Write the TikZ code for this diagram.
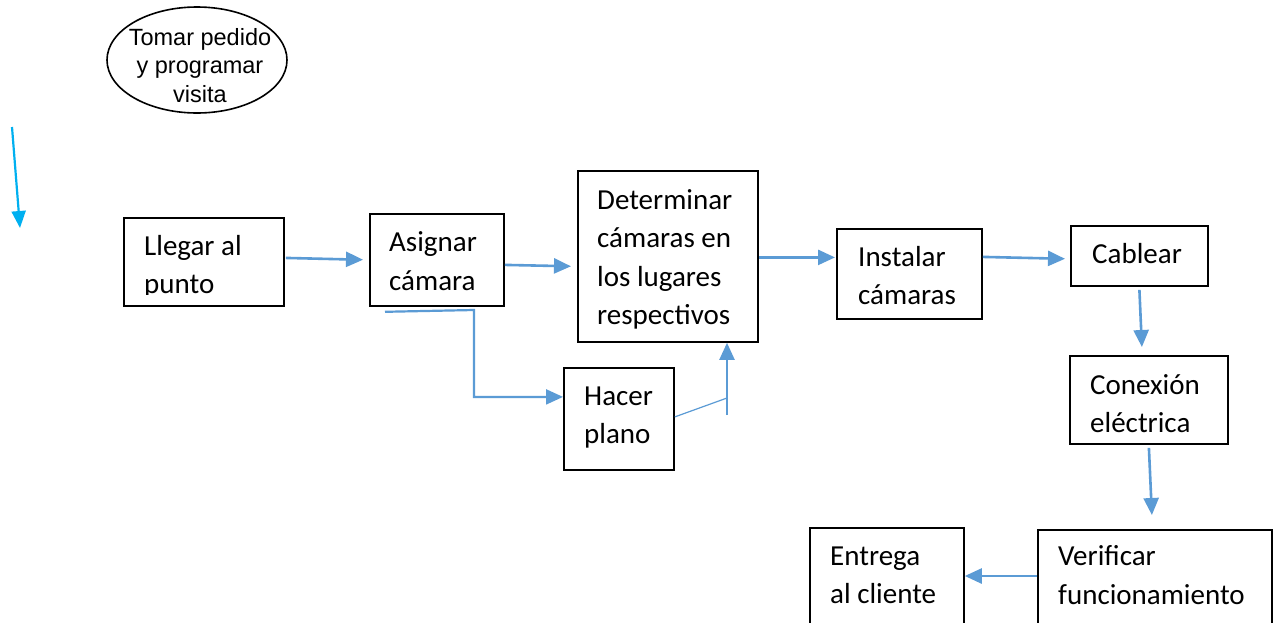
\documentclass[tikz,border=0pt]{standalone}
\usepackage{fontspec}
\setmainfont{Carlito}
\newfontfamily\arialf{Liberation Sans}
\usetikzlibrary{arrows.meta,shapes.geometric,calc}
\definecolor{flowblue}{HTML}{5B9BD5}
\definecolor{cyanarrow}{HTML}{00B0F0}
\tikzset{
  box/.style={draw=black, line width=1.8pt, inner sep=0pt, anchor=north west},
  txt/.style={anchor=base west, inner sep=0pt, align=left, font=\fontsize{29}{38.5}\selectfont},
  flow/.style={draw=flowblue, line width=2.6pt, -{Triangle[length=17pt,width=15pt]}},
  flowline/.style={draw=flowblue, line width=2.2pt},
}
\begin{document}
\begin{tikzpicture}[x=1pt,y=-1pt]
\clip (0,0) rectangle (1274,622);
\fill[white] (0,0) rectangle (1274,622);

% ellipse
\node[draw=black, line width=1.6pt, ellipse, minimum width=180pt, minimum height=106pt, inner sep=0pt] (tomar) at (197,60) {};
\node[anchor=base, inner sep=0pt, align=center, font=\arialf\fontsize{23.5}{28.5}\selectfont] (tomartxt) at (200,102) {Tomar pedido\\y programar\\visita};

% cyan arrow
\coordinate (cyA) at (12,127);
\coordinate (cyB) at (20,228);
\draw[draw=cyanarrow, line width=2.2pt, -{Triangle[length=17pt,width=14pt]}] (cyA) -- (cyB);

% boxes
\node[box, minimum width=160pt, minimum height=88pt] (llegar) at (123,217) {};
\node[box, minimum width=134pt, minimum height=92pt] (asignar) at (369,213) {};
\node[box, minimum width=180pt, minimum height=171pt] (det) at (577,170) {};
\node[box, minimum width=145pt, minimum height=90pt] (instalar) at (836,228) {};
\node[box, minimum width=137pt, minimum height=60pt] (cablear) at (1070,225) {};
\node[box, minimum width=158pt, minimum height=88pt] (conexion) at (1069,355) {};
\node[box, minimum width=110pt, minimum height=102pt] (hacer) at (563,367) {};
\node[box, minimum width=154pt, minimum height=130pt] (entrega) at (809,527) {};
\node[box, minimum width=234pt, minimum height=130pt] (verificar) at (1037,529) {};

% texts (anchor = baseline of last line)
\begin{scope}
\clip (123,217) rectangle (283,294);
\node[txt] (llegartxt) at (144,293.5) {Llegar al\\punto};
\end{scope}
\node[txt] (asignartxt) at (389,290) {Asignar\\cámara};
\node[txt] (dettxt) at (597,324.5) {Determinar\\cámaras en\\los lugares\\respectivos};
\node[txt] (instalartxt) at (858,304.5) {Instalar\\cámaras};
\node[txt] (cableartxt) at (1092,263) {Cablear};
\node[txt] (conexiontxt) at (1090,432.5) {Conexión\\eléctrica};
\node[txt] (hacertxt) at (584,443.5) {Hacer\\plano};
\node[txt] (entregatxt) at (830,603.5) {Entrega\\al cliente};
\node[txt] (verificartxt) at (1058,604) {Verificar\\funcionamiento};

% connectors
\draw[flow, shorten <=1pt, shorten >=6pt] ([yshift=4pt]llegar.east) -- (asignar.west);
\draw[flow, shorten >=6pt] ([yshift=-5pt]asignar.east) -- ([yshift=-10pt]det.west);
\draw[flow, shorten >=1pt] ([yshift=-1pt]det.east) -- ([yshift=-1pt]det.east -| instalar.west);
\draw[flow, shorten >=5pt] ([yshift=17pt]instalar.east) -- ([yshift=-3pt]cablear.west);
\draw[flow] ([yshift=-3pt]cablear.south) -- ([xshift=-7pt,yshift=8pt]conexion.north);
\draw[flow] ([yshift=-3pt]conexion.south) -- ([xshift=-3pt,yshift=14pt]verificar.north);
\draw[flow] ([yshift=-47pt]verificar.north west) -- ([yshift=-49pt]entrega.north east);

\draw[flowline, -{Triangle[length=17pt,width=15pt]}] ([xshift=16pt,yshift=-5pt]asignar.south west) -- (474,310) |- ([yshift=22pt]hacer.west);

\coordinate (hj) at (727,398);
\coordinate (vtail) at (727,415);
\draw[draw=flowblue, line width=1.2pt] ([yshift=2pt]hacer.east) -- (hj);
\draw[flowline, -{Triangle[length=17pt,width=15pt]}] (vtail) -- (vtail |- det.south);
\end{tikzpicture}
\end{document}
